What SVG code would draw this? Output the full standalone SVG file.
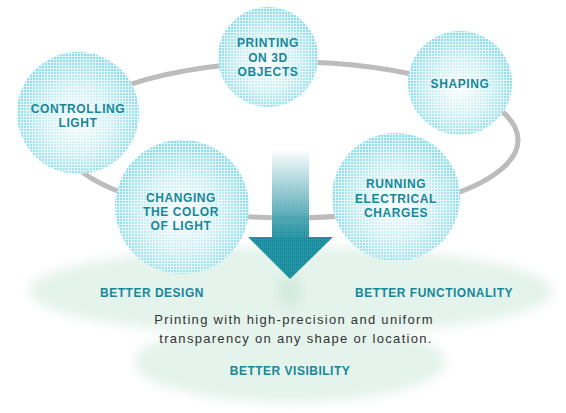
<svg xmlns="http://www.w3.org/2000/svg" width="566" height="413" viewBox="0 0 566 413">
<style>
.lbl{font-family:"Liberation Sans",Arial,sans-serif;font-weight:bold;font-size:12px;fill:#17879a;text-anchor:middle;letter-spacing:0.6px}
.body{font-family:"Liberation Sans",Arial,sans-serif;font-size:13px;fill:#333;text-anchor:middle;letter-spacing:1.3px}
.node{fill:url(#cg)}
.dots{fill:url(#dp);mask:url(#dm)}
</style>
<defs>
<radialGradient id="cg" cx="0.5" cy="0.55" r="0.5">
<stop offset="0" stop-color="#ffffff"/>
<stop offset="1" stop-color="#dcf5f8"/>
</radialGradient>
<radialGradient id="mg" cx="0.5" cy="0.55" r="0.52">
<stop offset="0" stop-color="#fff" stop-opacity="0.05"/>
<stop offset="0.55" stop-color="#fff" stop-opacity="0.35"/>
<stop offset="1" stop-color="#fff" stop-opacity="0.95"/>
</radialGradient>
<mask id="dm" maskContentUnits="objectBoundingBox">
<rect x="0" y="0" width="1" height="1" fill="url(#mg)"/>
</mask>
<pattern id="dp" width="3" height="3" patternUnits="userSpaceOnUse">
<rect x="0" y="0" width="2" height="2" fill="#8ad9e6"/>
</pattern>
<pattern id="ap" width="2" height="2" patternUnits="userSpaceOnUse">
<rect x="0" y="0" width="2" height="2" fill="#2497a8"/>
<rect x="0" y="0" width="1" height="1" fill="#127c8d"/>
</pattern>
<linearGradient id="sg" x1="0" y1="0" x2="0" y2="1">
<stop offset="0" stop-color="#fff" stop-opacity="1"/>
<stop offset="0.9" stop-color="#fff" stop-opacity="0"/>
</linearGradient>
<filter id="blur" x="-20%" y="-50%" width="140%" height="200%">
<feGaussianBlur stdDeviation="6"/>
</filter>
</defs>
<g id="background">
<ellipse cx="291" cy="291" rx="262" ry="44" fill="#e4f3ec" filter="url(#blur)"/>
<ellipse cx="290" cy="362" rx="156" ry="40" fill="#e4f3ec" filter="url(#blur)"/>
<ellipse cx="290" cy="291" rx="12" ry="16" fill="#d3eadd" filter="url(#blur)"/>
</g>
<g id="connectors">
<ellipse cx="290" cy="140" rx="228" ry="78" fill="none" stroke="#bcbcbc" stroke-width="5"/>
</g>
<g id="arrow">
<rect x="272" y="150" width="37" height="90" fill="url(#ap)" opacity="0.92"/>
<rect x="271" y="149" width="39" height="92" fill="url(#sg)"/>
<polygon points="248,237 333,237 290,279" fill="url(#ap)"/>
</g>
<g id="node-controlling">
<circle class="node" cx="78" cy="113" r="61"/><circle class="dots" cx="78" cy="113" r="61"/>
<text class="lbl" x="78" y="113">CONTROLLING</text>
<text class="lbl" x="78" y="127">LIGHT</text>
</g>
<g id="node-printing">
<circle class="node" cx="268" cy="57" r="50"/><circle class="dots" cx="268" cy="57" r="50"/>
<text class="lbl" x="268" y="47">PRINTING</text>
<text class="lbl" x="268" y="62">ON 3D</text>
<text class="lbl" x="268" y="76">OBJECTS</text>
</g>
<g id="node-shaping">
<circle class="node" cx="460" cy="83" r="52"/><circle class="dots" cx="460" cy="83" r="52"/>
<text class="lbl" x="460" y="88">SHAPING</text>
</g>
<g id="node-running">
<circle class="node" cx="396" cy="197" r="64"/><circle class="dots" cx="396" cy="197" r="64"/>
<text class="lbl" x="396" y="188">RUNNING</text>
<text class="lbl" x="396" y="203">ELECTRICAL</text>
<text class="lbl" x="396" y="217">CHARGES</text>
</g>
<g id="node-changing">
<circle class="node" cx="182" cy="207" r="67"/><circle class="dots" cx="182" cy="207" r="67"/>
<text class="lbl" x="181" y="202">CHANGING</text>
<text class="lbl" x="181" y="216">THE COLOR</text>
<text class="lbl" x="181" y="230">OF LIGHT</text>
</g>
<g id="labels">
<text class="lbl" x="152" y="297" style="letter-spacing:0.5px">BETTER DESIGN</text>
<text class="lbl" x="434" y="297" style="letter-spacing:0.5px">BETTER FUNCTIONALITY</text>
<text class="lbl" x="290" y="375" style="letter-spacing:0.5px">BETTER VISIBILITY</text>
<text class="body" x="294" y="324">Printing with high-precision and uniform</text>
<text class="body" x="296" y="343">transparency on any shape or location.</text>
</g>
</svg>
